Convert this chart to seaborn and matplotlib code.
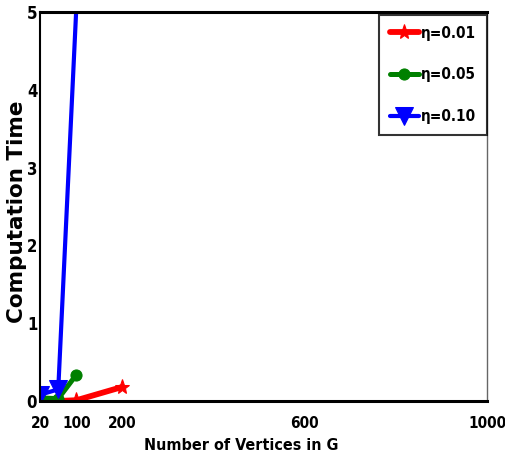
import matplotlib
matplotlib.use("Agg")
import matplotlib.pyplot as plt
import seaborn as sns
import pandas as pd

# ---- data ----
x_ticks = [20, 100, 200, 600, 1000]
y_ticks = [0, 1, 2, 3, 4, 5]
series_names = ["η=0.01", "η=0.05", "η=0.10"]
x_001 = [20, 60, 100, 200]
y_001 = [0.02, 0.0, 0.01, 0.18]
x_005 = [20, 60, 100]
y_005 = [0.04, 0.03, 0.34]
x_010 = [20, 60, 100]
y_010 = [0.08, 0.15, 5.1]
colors = ["#ff0000", "#008000", "#0000ff"]
markers = ["*", "o", "v"]

df = pd.concat([
    pd.DataFrame({"n": x_001, "t": y_001, "s": series_names[0]}),
    pd.DataFrame({"n": x_005, "t": y_005, "s": series_names[1]}),
    pd.DataFrame({"n": x_010, "t": y_010, "s": series_names[2]}),
], ignore_index=True)

sns.set_style("white")
plt.rcParams["font.family"] = ["DejaVu Sans"]
plt.rcParams["font.stretch"] = "condensed"
plt.rcParams["font.weight"] = "bold"
plt.rcParams["text.color"] = "black"
plt.rcParams["axes.labelcolor"] = "black"

fig = plt.figure(figsize=(5.05, 4.66), dpi=100)
ax = fig.add_axes([40 / 505, 1 - 401 / 466, 447 / 505, 389 / 466])

msizes = [11, 8, 13]
lws = [4.2, 3.6, 3.0]
for name, c, m, ms, lw in zip(series_names, colors, markers, msizes, lws):
    sub = df[df["s"] == name]
    sns.lineplot(data=sub, x="n", y="t", ax=ax, color=c, marker=m,
                 markersize=ms, linewidth=lw, markeredgecolor=c,
                 label=name, estimator=None, sort=False)

ax.set_xlim(20, 1000)
ax.set_ylim(0, 5)
ax.set_xticks(x_ticks)
ax.set_xticklabels([str(v) for v in x_ticks])
ax.set_yticks(y_ticks)
ax.set_yticklabels([str(v) for v in y_ticks])
ax.tick_params(direction="in", length=5, width=1, colors="#444444",
               labelcolor="black")
ax.tick_params(axis="x", pad=11, labelsize=11)
ax.tick_params(axis="y", pad=2, labelsize=12)

for sp in ["left", "bottom", "top"]:
    ax.spines[sp].set_color("black")
    ax.spines[sp].set_visible(True)
ax.spines["left"].set_linewidth(1.5)
ax.spines["bottom"].set_linewidth(2.2)
ax.spines["top"].set_linewidth(2.2)
ax.spines["right"].set_visible(True)
ax.spines["right"].set_color("#666666")
ax.spines["right"].set_linewidth(1.0)

ax.set_xlabel("Number of Vertices in G", fontsize=11.5, fontweight="bold")
ax.xaxis.set_label_coords((241 - 40) / 447, -0.094)
ax.set_ylabel("Computation Time", fontsize=15.5, fontweight="bold",
              fontstretch="normal")
ax.yaxis.set_label_coords(-(40 - 27) / 447, 0.486)

leg = ax.legend(loc="upper right", bbox_to_anchor=(1.0, 1 - 3 / 389),
                fontsize=11, frameon=True, fancybox=False,
                borderaxespad=0.0, labelspacing=1.75, handlelength=1.9,
                handletextpad=0.15, borderpad=0.7)
leg.get_frame().set_edgecolor("black")
leg.get_frame().set_linewidth(1.5)

fig.savefig("out.png", dpi=100)
